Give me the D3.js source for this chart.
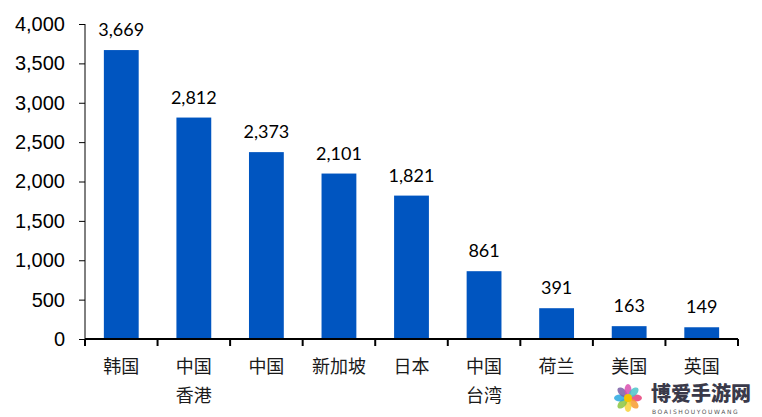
<!DOCTYPE html>
<html>
<head>
<meta charset="utf-8">
<script src="https://cdn.jsdelivr.net/npm/d3@7"></script>
<style>
  body { margin: 0; background: #fff; }
  svg { display: block; }
</style>
</head>
<body>
<div id="chart"></div>
<script>
// data
var categories = ["韩国", "中国\n香港", "中国", "新加坡", "日本", "中国\n台湾", "荷兰", "美国", "英国"];
var values = [3669, 2812, 2373, 2101, 1821, 861, 391, 163, 149];
var yTicks = [0, 500, 1000, 1500, 2000, 2500, 3000, 3500, 4000];

var width = 762, height = 417;
var mLeft = 85, mRight = 738, mTop = 24, mBottom = 339;

var svg = d3.select("#chart").append("svg")
    .attr("width", width)
    .attr("height", height);

var x = d3.scaleBand()
    .domain(d3.range(categories.length))
    .range([mLeft, mRight])
    .paddingInner(0.52)
    .paddingOuter(0.26);

var y = d3.scaleLinear()
    .domain([0, 4000])
    .range([mBottom, mTop]);

// bars
svg.selectAll("rect.bar")
    .data(values)
    .enter()
    .append("rect")
    .attr("class", "bar")
    .attr("x", function (d, i) { return x(i); })
    .attr("y", function (d) { return y(d); })
    .attr("width", x.bandwidth())
    .attr("height", function (d) { return mBottom - y(d); })
    .attr("fill", "#0055c0");

// value labels
svg.selectAll("text.val")
    .data(values)
    .enter()
    .append("text")
    .attr("class", "val")
    .attr("x", function (d, i) { return x(i) + x.bandwidth() / 2; })
    .attr("y", function (d) { return y(d) - 14; })
    .attr("text-anchor", "middle")
    .attr("font-family", "Lato, 'Open Sans', sans-serif")
    .attr("font-size", "18px")
    .attr("fill", "#000")
    .text(function (d) { return d3.format(",")(d); });

// y axis
var yAxis = d3.axisLeft(y)
    .tickValues(yTicks)
    .tickSize(6)
    .tickPadding(14)
    .tickFormat(d3.format(","));

var gy = svg.append("g")
    .attr("transform", "translate(" + mLeft + ",0)")
    .call(yAxis);
gy.select(".domain").attr("stroke", "#000").attr("d", "M0," + mTop + "V" + mBottom);
gy.selectAll(".tick line").attr("stroke", "#000");
gy.selectAll(".tick text")
    .attr("font-family", "'Liberation Sans', Arial, sans-serif")
    .attr("font-size", "20px")
    .attr("fill", "#000");

// x axis with boundary ticks
var boundaries = d3.range(categories.length + 1).map(function (i) {
    return mLeft + i * (mRight - mLeft) / categories.length;
});
svg.append("line")
    .attr("x1", mLeft).attr("x2", mRight)
    .attr("y1", mBottom).attr("y2", mBottom)
    .attr("stroke", "#000").attr("stroke-width", 2);
svg.selectAll("line.xt")
    .data(boundaries)
    .enter()
    .append("line")
    .attr("class", "xt")
    .attr("x1", function (d) { return d; })
    .attr("x2", function (d) { return d; })
    .attr("y1", mBottom)
    .attr("y2", mBottom + 7)
    .attr("stroke", "#000")
    .attr("stroke-width", 2);

// category labels
var cat = svg.selectAll("text.cat")
    .data(categories)
    .enter()
    .append("text")
    .attr("class", "cat")
    .attr("text-anchor", "middle")
    .attr("font-family", "'Noto Sans CJK SC', sans-serif")
    .attr("font-weight", 400)
    .attr("font-size", "18px")
    .attr("fill", "#1a1a1a");
cat.selectAll("tspan")
    .data(function (d, i) { return d.split("\n").map(function (s) { return { s: s, i: i }; }); })
    .enter()
    .append("tspan")
    .attr("x", function (d) { return x(d.i) + x.bandwidth() / 2; })
    .attr("y", function (d, j) { return 373 + j * 29; })
    .text(function (d) { return d.s; });

// watermark
var wm = svg.append("g").attr("transform", "translate(628,398)");
var petals = ["#e8407a", "#f79b2e", "#f7d23a", "#8cc63f", "#29a8e0", "#7b5ea7", "#d94fb0", "#4cc3c9"];
petals.forEach(function (c, i) {
    var a = i * Math.PI * 2 / petals.length;
    wm.append("ellipse")
        .attr("cx", Math.cos(a) * 8).attr("cy", Math.sin(a) * 8)
        .attr("rx", 6).attr("ry", 3.5)
        .attr("transform", "rotate(" + (a * 180 / Math.PI) + "," + (Math.cos(a) * 8) + "," + (Math.sin(a) * 8) + ")")
        .attr("fill", c).attr("opacity", 0.85);
});
wm.append("circle").attr("r", 4).attr("fill", "#f5c400");
svg.append("text")
    .attr("x", 651).attr("y", 401)
    .attr("font-family", "'Noto Sans CJK SC', sans-serif")
    .attr("font-weight", 900)
    .attr("font-size", "20px")
    .attr("fill", "#3a3a4a")
    .text("博爱手游网");
svg.append("text")
    .attr("x", 652).attr("y", 414)
    .attr("font-family", "'DejaVu Sans', sans-serif")
    .attr("font-size", "6px")
    .attr("letter-spacing", "1.6px")
    .attr("fill", "#555")
    .text("BOAISHOUYOUWANG");
</script>
</body>
</html>
